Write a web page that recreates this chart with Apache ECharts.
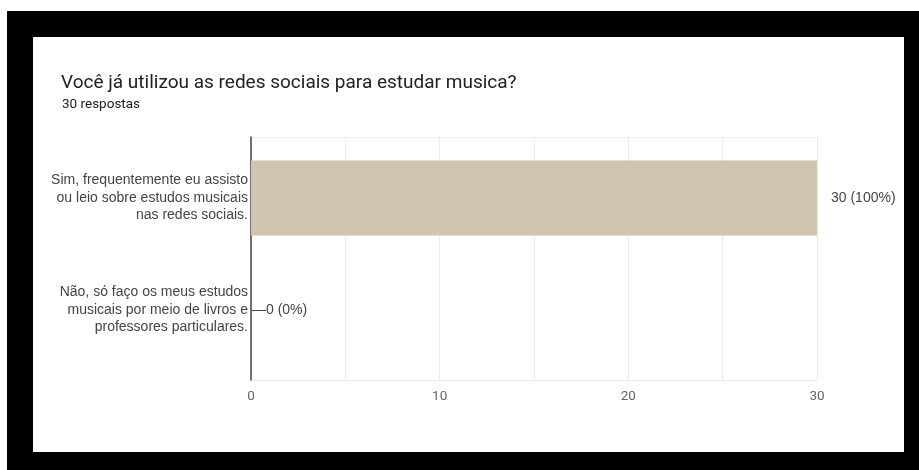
<!DOCTYPE html>
<html>
<head>
<meta charset="utf-8">
<script src="https://cdn.jsdelivr.net/npm/echarts@6/dist/echarts.min.js"></script>
<style>
html,body{margin:0;padding:0;background:#fff;width:919px;height:470px;overflow:hidden;}
#black{position:absolute;left:7px;top:11px;width:912px;height:459px;background:#000;}
#white{position:absolute;left:33px;top:37px;width:871px;height:415px;background:#fff;}
#chart{position:absolute;left:0;top:0;width:919px;height:470px;}
</style>
</head>
<body>
<div id="black"></div>
<div id="white"></div>
<div id="chart"></div>
<script>
const titleText = 'Você já utilizou as redes sociais para estudar musica?';
const subtitleText = '30 respostas';
const categories = [
  'Sim, frequentemente eu assisto\nou leio sobre estudos musicais\nnas redes sociais.',
  'Não, só faço os meus estudos\nmusicais por meio de livros e\nprofessores particulares.'
];
const counts = [30, 0];
const totalResponses = 30;
const xTicks = [0, 10, 20, 30];

const chart = echarts.init(document.getElementById('chart'), null, {renderer: 'canvas'});
const labelFont = '"Liberation Sans", Arial, sans-serif';

const barData = counts.map(v => ({
  value: v,
  label: {distance: v === 0 ? 1 : 14}
}));

chart.setOption({
  backgroundColor: 'transparent',
  animation: false,
  title: [
    {text: titleText, left: 61, top: 74, padding: 0,
     textStyle: {fontFamily: 'Roboto, sans-serif', fontSize: 19, fontWeight: 'normal', color: '#202124'}},
    {text: subtitleText, left: 62, top: 98, padding: 0,
     textStyle: {fontFamily: 'Roboto, sans-serif', fontSize: 13.5, fontWeight: 'normal', color: '#202124'}}
  ],
  grid: [
    {left: 251, right: 102, top: 137, bottom: 90},
    {left: 251, right: 102, top: 142, bottom: 104}
  ],
  xAxis: [
    {gridIndex: 0, type: 'value', min: 0, max: 30, interval: 5,
     axisLine: {show: false}, axisTick: {show: false},
     splitLine: {show: true, lineStyle: {color: '#ebebeb', width: 1}},
     axisLabel: {margin: 10, color: '#666', fontSize: 13.5, fontFamily: 'Roboto, sans-serif',
       formatter: v => xTicks.indexOf(v) >= 0 ? String(v) : ''}},
    {gridIndex: 1, type: 'value', min: 0, max: 30, show: false}
  ],
  yAxis: [
    {gridIndex: 0, type: 'value', min: 0, max: 1, interval: 1,
     axisLine: {show: true, lineStyle: {color: '#444', width: 1.5}},
     axisTick: {show: false}, axisLabel: {show: false},
     splitLine: {show: true, lineStyle: {color: '#ebebeb', width: 1}}},
    {gridIndex: 1, type: 'category', inverse: true, data: categories,
     axisLine: {show: false}, axisTick: {show: false},
     axisLabel: {margin: 3, color: '#444', fontSize: 14, fontFamily: labelFont, lineHeight: 17.5, align: 'right'}}
  ],
  series: [{
    type: 'bar', xAxisIndex: 1, yAxisIndex: 1,
    data: barData,
    barWidth: 75,
    itemStyle: {color: '#cec4b0'},
    label: {
      show: true, position: 'right', color: '#444', fontSize: 14, fontFamily: labelFont,
      formatter: p => {
        const pct = Math.round(p.value / totalResponses * 100);
        return (p.value === 0 ? '\u2014' : '') + p.value + ' (' + pct + '%)';
      }
    }
  }]
});
</script>
</body>
</html>
